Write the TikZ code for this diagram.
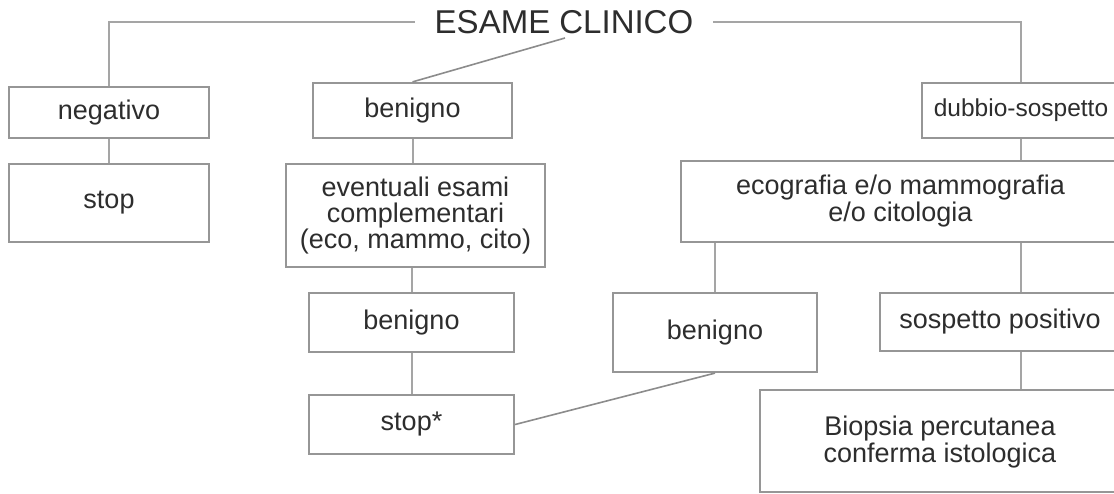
\documentclass[tikz,border=0pt]{standalone}
\usepackage{fontspec}
\setmainfont{Liberation Sans}
\definecolor{boxgray}{RGB}{150,150,150}
\definecolor{linegray}{RGB}{165,165,165}
\definecolor{diaggray}{RGB}{140,140,140}
\definecolor{txtcol}{RGB}{45,45,45}
\tikzset{
  box/.style={draw=boxgray, line width=2.2pt, fill=white, inner sep=0pt, align=center,
    text=txtcol, font=\fontsize{27}{26}\selectfont},
  conn/.style={draw=linegray, line width=2pt},
  diag/.style={draw=diaggray, line width=1.6pt},
}
\begin{document}
\begin{tikzpicture}[x=1pt,y=-1pt]
\useasboundingbox[fill=white] (0,0) rectangle (1114,493);
% title
\node[text=txtcol, font=\fontsize{33}{33}\selectfont, inner xsep=20pt, inner ysep=2pt] (title) at (564,22) {ESAME CLINICO};
% left branch
\node[box, minimum width=200pt, minimum height=51pt] (neg) at (109,112.5) {negativo};
\node[box, minimum width=200pt, minimum height=78pt] (stopa) at (109,203) {stop};
% middle branch
\node[box, minimum width=199pt, minimum height=55pt] (bena) at (412.5,110.5) {benigno};
\node[box, minimum width=259pt, minimum height=103pt] (event) at (415.5,215.5) {eventuali esami\\complementari\\(eco, mammo, cito)};
\node[box, minimum width=205pt, minimum height=59pt] (benb) at (411.5,322.5) {benigno};
\node[box, minimum width=205pt, minimum height=59pt] (stopb) at (411.5,424.5) {stop*};
% right branch
\node[box, minimum width=198pt, minimum height=55pt, font=\fontsize{24.5}{24}\selectfont] (dub) at (1021,110.5) {dubbio-sospetto};
\node[box, minimum width=439pt, minimum height=81pt, font=\fontsize{27}{27}\selectfont] (eco) at (900.5,201.5) {ecografia e/o mammografia\\e/o citologia};
\node[box, minimum width=204pt, minimum height=79pt] (benc) at (715,332.5) {benigno};
\node[box, minimum width=240pt, minimum height=58pt] (sosp) at (1000,322) {sospetto positivo};
\node[box, minimum width=360pt, minimum height=102pt, font=\fontsize{27}{27}\selectfont, text depth=4pt] (bio) at (940,441) {Biopsia percutanea\\conferma istologica};
% connectors
\coordinate (tdiag) at (565,38);
\draw[conn] (title.west) -| (neg.north);
\draw[conn] (title.east) -| (dub.north);
\draw[conn] (neg.south) -- (stopa.north);
\draw[diag] (tdiag) -- (bena.north);
\draw[conn] (bena.south) -- (bena.south |- event.north);
\draw[conn] (benb.north |- event.south) -- (benb.north);
\draw[conn] (benb.south) -- (stopb.north);
\draw[diag] (stopb.east) -- (benc.south);
\draw[conn] (dub.south) -- (dub.south |- eco.north);
\draw[conn] (benc.north |- eco.south) -- (benc.north);
\draw[conn] (dub.south |- eco.south) -- (dub.south |- sosp.north);
\draw[conn] (dub.south |- sosp.south) -- (dub.south |- bio.north);
\end{tikzpicture}
\end{document}
